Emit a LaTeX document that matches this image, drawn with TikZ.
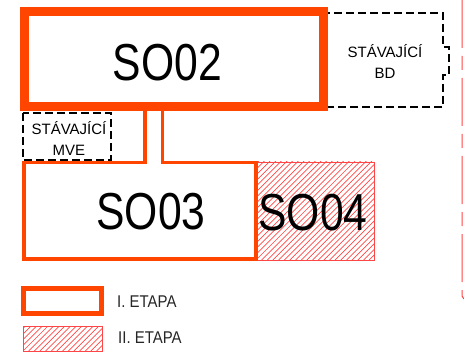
\documentclass[tikz,border=0pt]{standalone}
\usepackage{fontspec}
\setmainfont{Liberation Sans}
\newfontfamily\narrowsf[FakeStretch=0.82]{Liberation Sans}
\newfontfamily\labelsf[FakeStretch=0.88]{Liberation Sans}
\definecolor{etapaorange}{RGB}{255,69,0}
\definecolor{etapared}{RGB}{255,70,70}

\begin{document}
\begin{tikzpicture}[x=1pt, y=-1pt,
        existing/.style={black, line width=1.6pt, dash pattern=on 8pt off 4pt},
        hatched/.style={draw=etapared, line width=.6pt, path picture={
                \foreach \i in {-20,...,22}
                \draw[etapared, line width=.7pt] ([xshift=\i*5.66pt]path picture bounding box.south west) -- ++(130, -130);}},
        bigtext/.style={inner sep=0pt, font=\narrowsf\fontsize{52}{52}\selectfont},
        smalltext/.style={inner sep=0pt, align=center, font=\fontsize{15}{21}\selectfont},
        legendtext/.style={inner sep=0pt, anchor=west, text=black!85, font=\labelsf\fontsize{17}{19}\selectfont}]
        \useasboundingbox (0, 0) rectangle (464, 353);
        \draw[existing] (322, 13) -- (443, 13) -- (443, 47) -- (449, 47) -- (449, 75) -- (443, 75) -- (443, 107) -- (322, 107);
        \draw[existing] (23, 113) rectangle (111, 160);
        \node[smalltext] (bd) at (385, 61.5) {STÁVAJÍCÍ\\BD};
        \node[smalltext] (mve) at (69, 138.5) {STÁVAJÍCÍ\\MVE};
        \draw[hatched] (256, 162) rectangle (374, 260);
        \node[bigtext] (so04) at (313, 212.5) {SO04};
        \draw[etapaorange, line width = 3.5pt] (145, 111) -- (145, 162.5) -- (24, 162.5) -- (24, 259) -- (256, 259) -- (256, 162.5) -- (162.5, 162.5) -- (162.5, 111);
        \draw[etapaorange, line width = 9pt] (24, 12) rectangle (323.5, 107);
        \node[bigtext] (so02) at (167.5, 62.5) {SO02};
        \node[bigtext] (so03) at (151, 212) {SO03};
        \draw[etapared, line width = 1pt, dash pattern=on 48pt off 8pt on 14pt off 8pt] (462, 0) -- (462, 296) -- (464, 299);
        \draw[etapaorange, line width = 5pt] (23.5, 288.5) rectangle (101, 313);
        \node[legendtext] (etapa1) at (117, 301.5) {I. ETAPA};
        \draw[hatched] (23, 326) rectangle (102, 351);
        \node[legendtext] (etapa2) at (118, 338) {II. ETAPA};
\end{tikzpicture}
\end{document}
